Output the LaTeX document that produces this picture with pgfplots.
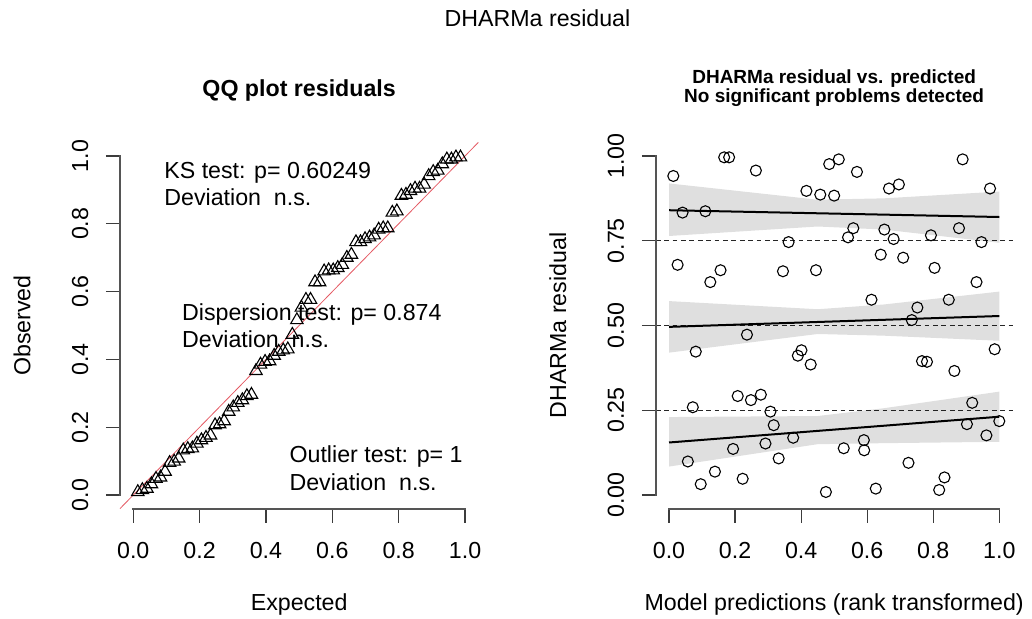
\documentclass[border=0pt]{standalone}
\usepackage{fontspec}
\setmainfont{Liberation Sans}
\usepackage{pgfplots}
\pgfplotsset{compat=1.18}
\newcommand\basefont{\fontsize{11.6}{13.9}\selectfont}
\definecolor{ablinered}{RGB}{228,90,100}
\definecolor{axisgray}{RGB}{60,60,60}
\definecolor{axislinegray}{RGB}{85,85,85}
\pgfplotsset{
  rstyle/.style={
    scale only axis, anchor=south west, clip=false,
    xmin=-0.04, xmax=1.04, ymin=-0.04, ymax=1.04,
    height=183.1pt,
    axis line style={draw=none},
    tick align=outside, major tick length=7pt,
    xtick pos=left, ytick pos=left,
    tick style={axisgray, line width=0.6pt},
    font=\basefont,
    tick label style={font=\basefont},
    xtick={0,0.2,0.4,0.6,0.8,1},
    xticklabels={0.0,0.2,0.4,0.6,0.8,1.0},
    xticklabel style={yshift=-6.5pt},
    yticklabel style={xshift=-5.3pt, rotate=90, anchor=south},
    every axis y label/.style={at={(rel axis cs:0,0.5)}, xshift=-49pt, rotate=90, anchor=center, font=\basefont},
    every axis x label/.style={at={(rel axis cs:0.5,0)}, yshift=-51pt, anchor=base, font=\basefont},
  }
}
\begin{document}
\begin{tikzpicture}
\path[use as bounding box] (0,0) rectangle (516pt,309pt);
\node[anchor=base, font=\basefont] at (268.75pt,296pt) {DHARMa residual};

% ---------------- QQ plot ----------------
\begin{axis}[rstyle, at={(60pt,54.7pt)}, width=179.15pt,
  ytick={0,0.2,0.4,0.6,0.8,1},
  yticklabels={0.0,0.2,0.4,0.6,0.8,1.0},
  xlabel={Expected}, ylabel={Observed},
  title={QQ plot residuals},
  every axis title/.style={at={(rel axis cs:0.5,1)}, anchor=base, yshift=23.2pt, font=\basefont\bfseries},
]
\coordinate (LX0) at (axis cs:0,-0.04);
\coordinate (LX1) at (axis cs:1,-0.04);
\coordinate (LY0) at (axis cs:-0.04,0);
\coordinate (LY1) at (axis cs:-0.04,1);
\addplot[ablinered, line width=0.4pt, forget plot] coordinates {(-0.04,-0.04) (1.04,1.04)};
\addplot[only marks, mark=triangle, mark size=3.6pt, mark options={black, line width=0.55pt}] coordinates {
(0.0137,0.009) (0.0274,0.015) (0.0411,0.019) (0.0548,0.032) (0.0685,0.048) (0.0822,0.052)
(0.0959,0.069) (0.1096,0.095) (0.1233,0.099) (0.1370,0.108) (0.1507,0.132) (0.1644,0.136)
(0.1781,0.138) (0.1918,0.152) (0.2055,0.162) (0.2192,0.169) (0.2329,0.176) (0.2466,0.206)
(0.2603,0.209) (0.2740,0.218) (0.2877,0.246) (0.3014,0.259) (0.3151,0.272) (0.3288,0.280)
(0.3425,0.292) (0.3562,0.296) (0.3699,0.366) (0.3836,0.385) (0.3973,0.393) (0.4110,0.395)
(0.4247,0.411) (0.4384,0.423) (0.4521,0.427) (0.4658,0.430) (0.4795,0.473) (0.4932,0.516)
(0.5068,0.553) (0.5205,0.576) (0.5342,0.576) (0.5479,0.628) (0.5616,0.628) (0.5753,0.660)
(0.5890,0.663) (0.6027,0.663) (0.6164,0.670) (0.6301,0.679) (0.6438,0.700) (0.6575,0.709)
(0.6712,0.746) (0.6849,0.746) (0.6986,0.755) (0.7123,0.760) (0.7260,0.766) (0.7397,0.783)
(0.7534,0.787) (0.7671,0.787) (0.7808,0.833) (0.7945,0.837) (0.8082,0.883) (0.8219,0.886)
(0.8356,0.897) (0.8493,0.904) (0.8630,0.904) (0.8767,0.916) (0.8904,0.941) (0.9041,0.953)
(0.9178,0.957) (0.9315,0.976) (0.9452,0.990) (0.9589,0.990) (0.9726,0.996) (0.9863,0.996)
};
\node[anchor=base west, inner sep=0pt, font=\basefont] at (axis cs:0.0926,0.934) {KS test: p= 0.60249};
\node[anchor=base west, inner sep=0pt, font=\basefont] at (axis cs:0.0926,0.8525) {Deviation\ \ n.s.};
\node[anchor=base west, inner sep=0pt, font=\basefont] at (axis cs:0.146,0.514) {Dispersion test: p= 0.874};
\node[anchor=base west, inner sep=0pt, font=\basefont] at (axis cs:0.146,0.436) {Deviation\ \ n.s.};
\node[anchor=base west, inner sep=0pt, font=\basefont] at (axis cs:0.470,0.0953) {Outlier test: p= 1};
\node[anchor=base west, inner sep=0pt, font=\basefont] at (axis cs:0.470,0.0147) {Deviation\ \ n.s.};
\end{axis}
\draw[axislinegray, line width=1.1pt, line cap=rect] (LX0) -- (LX1);
\draw[axislinegray, line width=1.1pt, line cap=rect] (LY0) -- (LY1);

% ---------------- Residual vs predicted ----------------
\begin{axis}[rstyle, at={(327.9pt,54.7pt)}, width=178.35pt,
  ytick={0,0.25,0.5,0.75,1},
  yticklabels={0.00,0.25,0.50,0.75,1.00},
  xlabel={Model predictions (rank transformed)}, ylabel={DHARMa residual},
  title={DHARMa residual vs. predicted\\No significant problems detected},
  every axis title/.style={at={(rel axis cs:0.5,1)}, anchor=south, yshift=17.55pt, align=center, inner sep=0pt, font=\fontsize{9.5}{8.65}\selectfont\bfseries},
]
\coordinate (RX0) at (axis cs:0,-0.04);
\coordinate (RX1) at (axis cs:1,-0.04);
\coordinate (RY0) at (axis cs:-0.04,0);
\coordinate (RY1) at (axis cs:-0.04,1);
\addplot[only marks, mark=o, mark size=2.75pt, mark options={black, line width=0.55pt}] coordinates {
(0.013,0.941) (0.026,0.679) (0.041,0.833) (0.057,0.099) (0.072,0.259) (0.081,0.423)
(0.096,0.032) (0.110,0.837) (0.125,0.628) (0.139,0.069) (0.156,0.663) (0.167,0.996)
(0.182,0.996) (0.194,0.136) (0.208,0.292) (0.223,0.048) (0.236,0.473) (0.248,0.280)
(0.263,0.957) (0.278,0.296) (0.292,0.152) (0.307,0.246) (0.317,0.206) (0.332,0.108)
(0.345,0.660) (0.362,0.746) (0.376,0.169) (0.390,0.411) (0.401,0.427) (0.416,0.897)
(0.429,0.385) (0.445,0.663) (0.458,0.886) (0.475,0.009) (0.485,0.976) (0.500,0.883)
(0.514,0.990) (0.529,0.138) (0.542,0.760) (0.558,0.787) (0.569,0.953) (0.590,0.162)
(0.591,0.132) (0.613,0.576) (0.626,0.019) (0.641,0.709) (0.652,0.783) (0.666,0.904)
(0.680,0.755) (0.696,0.916) (0.709,0.700) (0.725,0.095) (0.735,0.516) (0.752,0.553)
(0.766,0.395) (0.781,0.393) (0.793,0.766) (0.804,0.670) (0.818,0.015) (0.834,0.052)
(0.847,0.576) (0.864,0.366) (0.878,0.787) (0.889,0.990) (0.902,0.209) (0.918,0.272)
(0.931,0.628) (0.946,0.746) (0.961,0.176) (0.972,0.904) (0.986,0.430) (1.000,0.218)
};
\addplot[black!85, line width=0.35pt, dash pattern=on 2.4pt off 1.8pt, forget plot] coordinates {(-0.04,0.25) (1.04,0.25)};
\addplot[black!85, line width=0.35pt, dash pattern=on 2.4pt off 1.8pt, forget plot] coordinates {(-0.04,0.5) (1.04,0.5)};
\addplot[black!85, line width=0.35pt, dash pattern=on 2.4pt off 1.8pt, forget plot] coordinates {(-0.04,0.75) (1.04,0.75)};
% confidence bands
\addplot[draw=none, fill=black, fill opacity=0.125, forget plot] coordinates {
(0,0.230) (0.45,0.233) (0.65,0.256) (1,0.305) (1,0.157) (0.65,0.153) (0.45,0.150) (0,0.084)} -- cycle;
\addplot[draw=none, fill=black, fill opacity=0.125, forget plot] coordinates {
(0,0.572) (0.45,0.548) (0.65,0.562) (1,0.600) (1,0.455) (0.65,0.470) (0.45,0.475) (0,0.420)} -- cycle;
\addplot[draw=none, fill=black, fill opacity=0.125, forget plot] coordinates {
(0,0.919) (0.45,0.871) (0.65,0.875) (1,0.895) (1,0.744) (0.65,0.783) (0.45,0.792) (0,0.764)} -- cycle;
% quantile lines
\addplot[black, line width=1pt, forget plot] coordinates {(0,0.155) (1,0.231)};
\addplot[black, line width=1pt, forget plot] coordinates {(0,0.496) (1,0.528)};
\addplot[black, line width=1pt, forget plot] coordinates {(0,0.840) (1,0.820)};
\end{axis}
\draw[axislinegray, line width=1.1pt, line cap=rect] (RX0) -- (RX1);
\draw[axislinegray, line width=1.1pt, line cap=rect] (RY0) -- (RY1);
\end{tikzpicture}
\end{document}
